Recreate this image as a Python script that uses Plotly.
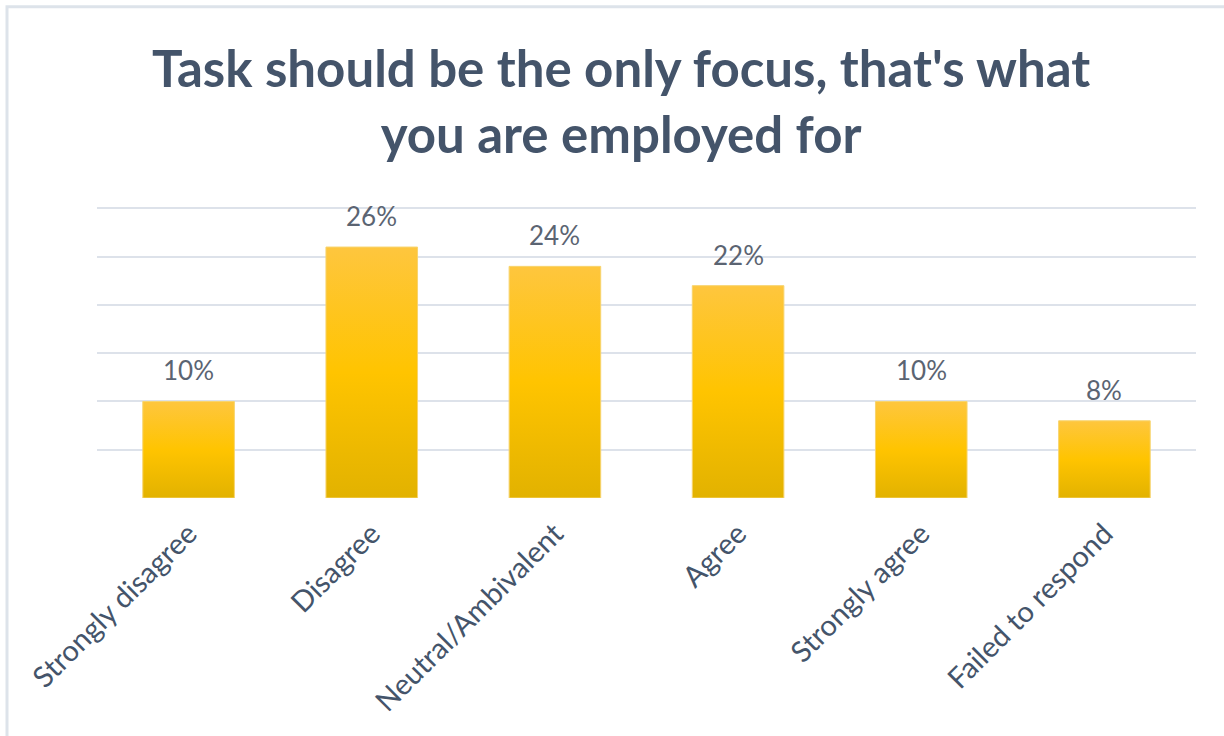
import plotly.graph_objects as go

categories = ["Strongly disagree", "Disagree", "Neutral/Ambivalent", "Agree",
              "Strongly agree", "Failed to respond"]
percentages = [10, 26, 24, 22, 10, 8]
y_gridlines = [0, 5, 10, 15, 20, 25, 30]

TITLE = "Task should be the only focus, that's what<br>you are employed for"

W, H = 1224, 736
Y_MAX = 30.15
BASE_PX, TOP30_PX = 498, 208
px_per_unit = (BASE_PX - TOP30_PX) / 30
ML, MR = 97, 28
MB = H - BASE_PX
MT = BASE_PX - px_per_unit * Y_MAX
BAR_HALF = 0.25

fig = go.Figure()

# Each bar is a filled polygon so it can carry a vertical gold gradient
for i, v in enumerate(percentages):
    xs = [i - BAR_HALF, i + BAR_HALF, i + BAR_HALF, i - BAR_HALF, i - BAR_HALF]
    ys = [0, 0, v, v, 0]
    fig.add_trace(go.Scatter(
        x=xs, y=ys, mode="lines", fill="toself",
        line=dict(color="#F7D46E", width=1),
        fillgradient=dict(
            type="vertical",
            colorscale=[[0, "#E2B200"], [0.5, "#FFC400"], [1, "#FEC63E"]],
        ),
        hoverinfo="skip", showlegend=False,
    ))

# Value labels above each bar
for i, v in enumerate(percentages):
    fig.add_annotation(
        x=i, y=v, xref="x", yref="y", text=f"{v}%", showarrow=False,
        yanchor="bottom", yshift=13,
        font=dict(family="Lato", size=26, color="#5B6472"),
    )

pw = W - ML - MR
ph = H - MT - MB

# Chart title
title_cx, title_cy = 621, 100
fig.add_annotation(
    xref="paper", yref="paper",
    x=(title_cx - ML) / pw, y=1 + (MT - title_cy) / ph,
    xanchor="center", yanchor="middle", showarrow=False,
    text=TITLE, align="center",
    font=dict(family="Lato", size=51, color="#44546A", weight="bold"),
)

fig.update_layout(
    width=W, height=H,
    margin=dict(l=ML, r=MR, t=MT, b=MB),
    paper_bgcolor="white", plot_bgcolor="white",
    xaxis=dict(
        range=[-0.5, len(categories) - 0.5],
        tickmode="array", tickvals=list(range(len(categories))),
        ticktext=categories, tickangle=-45, ticklabelstandoff=12,
        tickfont=dict(family="Lato", size=29, color="#44546A"),
        showgrid=False, zeroline=False, showline=False, ticks="",
    ),
    yaxis=dict(
        range=[0, Y_MAX], tickmode="array", tickvals=y_gridlines,
        showticklabels=False, showgrid=True, gridcolor="#DDE2EA",
        gridwidth=2, zeroline=False, showline=False,
    ),
)

# Light frame along the top and left edges of the chart area
fx = (7 - ML) / pw
fy_top = 1 + (MT - 6) / ph
fy_bot = -(MB + 5) / ph
fig.add_shape(type="path", xref="paper", yref="paper",
              path=f"M {fx} {fy_bot} L {fx} {fy_top} L {1 + (MR + 5) / pw} {fy_top}",
              line=dict(color="#DDE3EA", width=3))

fig.write_html("out.html")
